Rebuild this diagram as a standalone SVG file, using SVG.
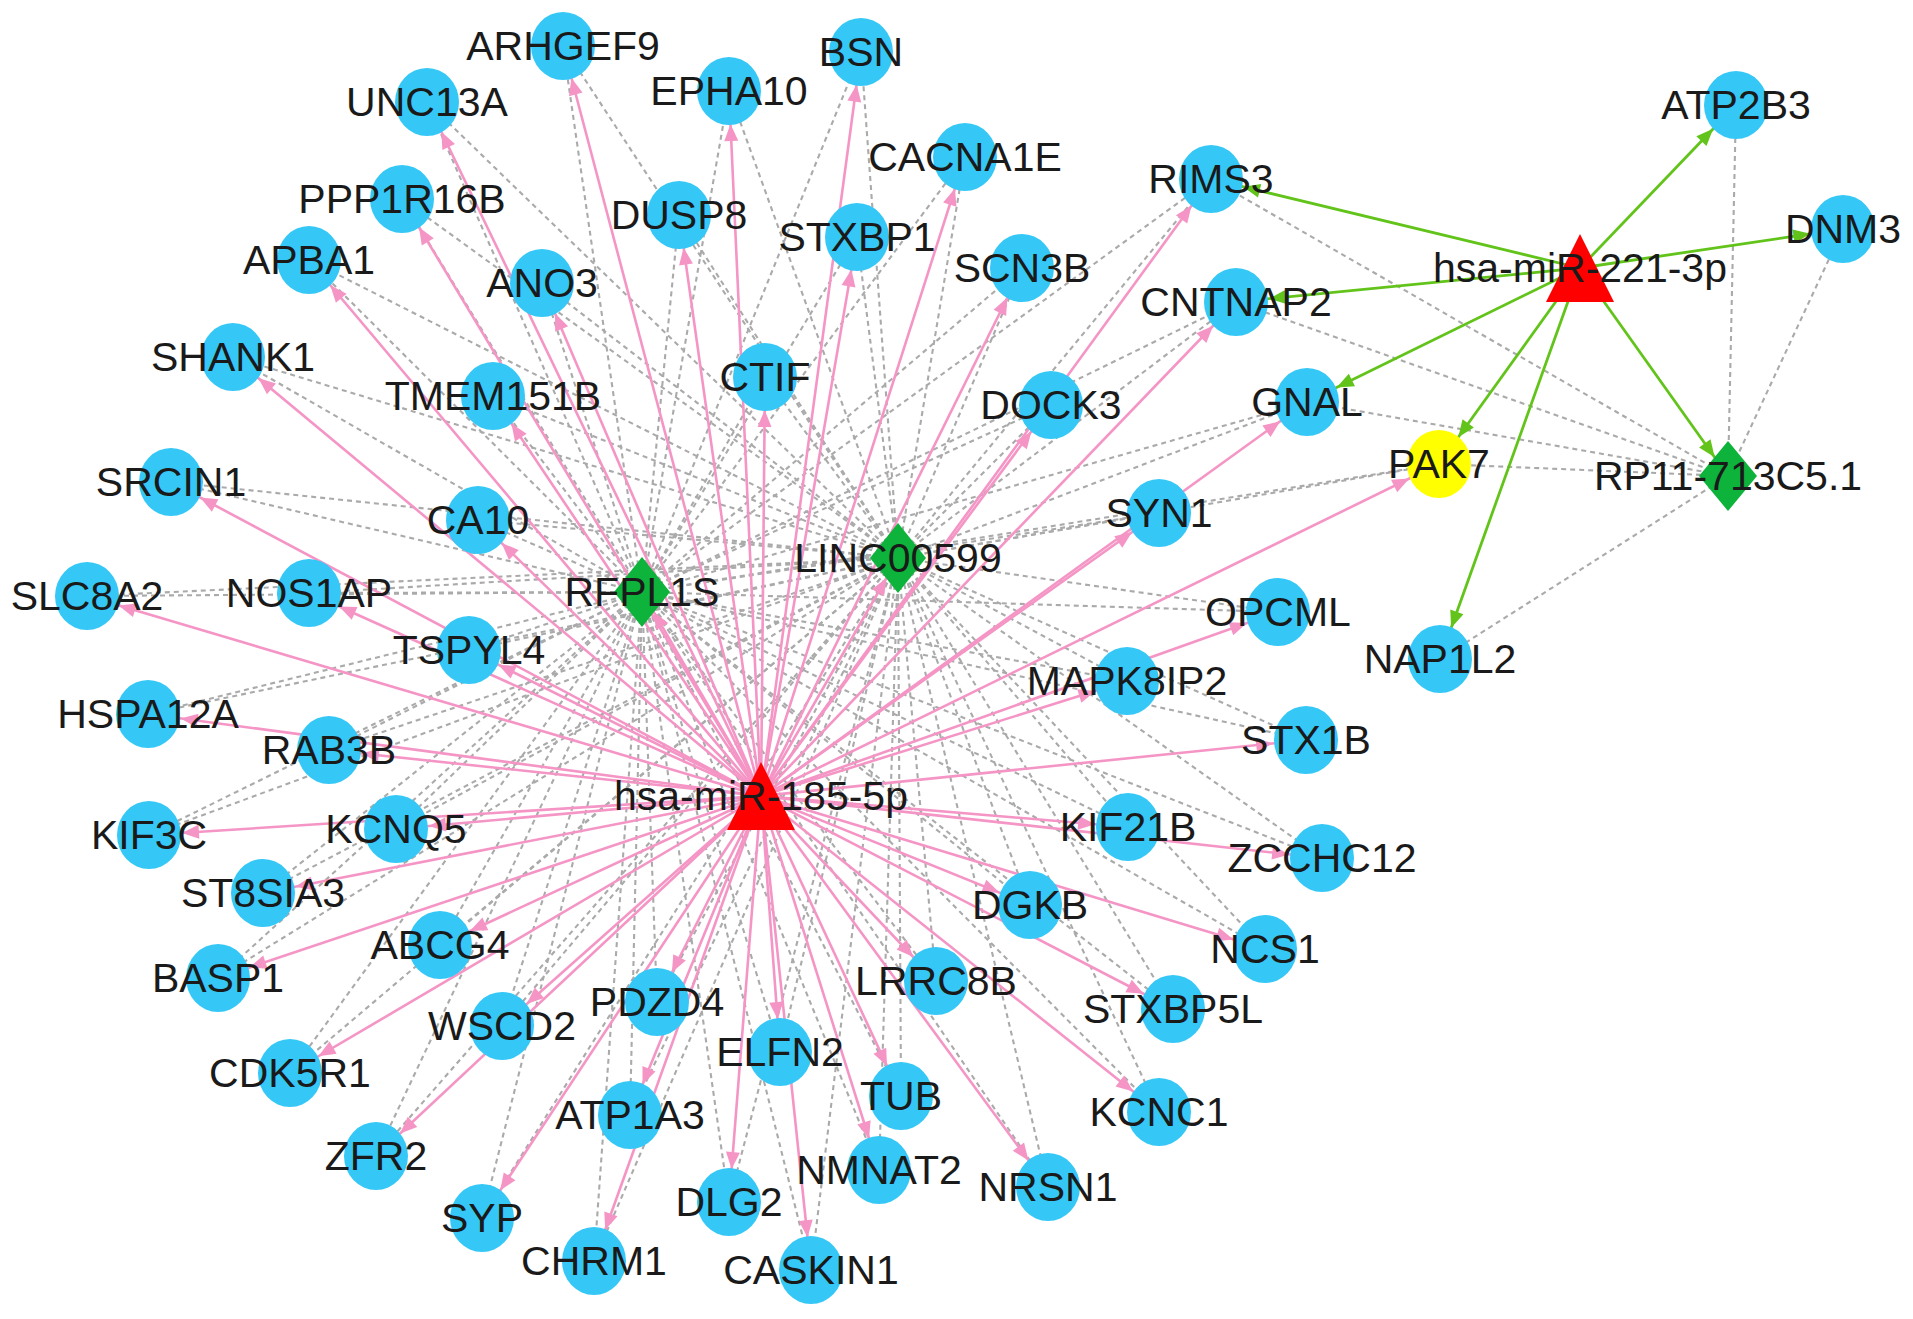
<svg xmlns="http://www.w3.org/2000/svg" width="1913" height="1319" viewBox="0 0 1913 1319">
<defs>
<style>
.d{stroke:#aaaaaa;stroke-width:2.1;stroke-dasharray:5 4;fill:none}
.p{stroke:#f595c5;stroke-width:2.6;marker-end:url(#ap)}
.pd{stroke:#f595c5;stroke-width:2.6;marker-end:url(#apd)}
.g{stroke:#62c41a;stroke-width:2.8;marker-end:url(#ag)}
.gd{stroke:#62c41a;stroke-width:2.8;marker-end:url(#agd)}
.m{fill:#35c8f7}
.l{fill:#0db33a}
.r{fill:#ff0000}
.y{fill:#ffff00}
text{font-family:"Liberation Sans",Arial,sans-serif;font-size:41px;fill:#1a1a1a;text-anchor:middle}
</style>
<marker id="ap" markerUnits="userSpaceOnUse" orient="auto" markerWidth="1" markerHeight="1" refX="0" refY="0" overflow="visible"><path d="M-33,0 L-50,-7 L-50,7 Z" fill="#f595c5"/></marker>
<marker id="apd" markerUnits="userSpaceOnUse" orient="auto" markerWidth="1" markerHeight="1" refX="0" refY="0" overflow="visible"><path d="M-23,0 L-40,-7 L-40,7 Z" fill="#f595c5"/></marker>
<marker id="ag" markerUnits="userSpaceOnUse" orient="auto" markerWidth="1" markerHeight="1" refX="0" refY="0" overflow="visible"><path d="M-33,0 L-50,-7 L-50,7 Z" fill="#62c41a"/></marker>
<marker id="agd" markerUnits="userSpaceOnUse" orient="auto" markerWidth="1" markerHeight="1" refX="0" refY="0" overflow="visible"><path d="M-23,0 L-40,-7 L-40,7 Z" fill="#62c41a"/></marker>
</defs>
<rect width="1913" height="1319" fill="#ffffff"/>
<g id="connectors">
<g id="dashed-RFPL1S">
<line class="d" x1="642" y1="592" x2="563" y2="46"/>
<line class="d" x1="642" y1="592" x2="427" y2="102"/>
<line class="d" x1="642" y1="592" x2="729" y2="91"/>
<line class="d" x1="642" y1="592" x2="861" y2="52"/>
<line class="d" x1="642" y1="592" x2="965" y2="157"/>
<line class="d" x1="642" y1="592" x2="402" y2="199"/>
<line class="d" x1="642" y1="592" x2="679" y2="215"/>
<line class="d" x1="642" y1="592" x2="857" y2="237"/>
<line class="d" x1="642" y1="592" x2="1211" y2="179"/>
<line class="d" x1="642" y1="592" x2="309" y2="260"/>
<line class="d" x1="642" y1="592" x2="542" y2="283"/>
<line class="d" x1="642" y1="592" x2="1022" y2="268"/>
<line class="d" x1="642" y1="592" x2="1236" y2="302"/>
<line class="d" x1="642" y1="592" x2="233" y2="357"/>
<line class="d" x1="642" y1="592" x2="493" y2="396"/>
<line class="d" x1="642" y1="592" x2="765" y2="377"/>
<line class="d" x1="642" y1="592" x2="1051" y2="405"/>
<line class="d" x1="642" y1="592" x2="1307" y2="402"/>
<line class="d" x1="642" y1="592" x2="171" y2="482"/>
<line class="d" x1="642" y1="592" x2="478" y2="520"/>
<line class="d" x1="642" y1="592" x2="1159" y2="513"/>
<line class="d" x1="642" y1="592" x2="87" y2="596"/>
<line class="d" x1="642" y1="592" x2="309" y2="593"/>
<line class="d" x1="642" y1="592" x2="1278" y2="612"/>
<line class="d" x1="642" y1="592" x2="469" y2="650"/>
<line class="d" x1="642" y1="592" x2="148" y2="714"/>
<line class="d" x1="642" y1="592" x2="1127" y2="681"/>
<line class="d" x1="642" y1="592" x2="329" y2="750"/>
<line class="d" x1="642" y1="592" x2="1306" y2="740"/>
<line class="d" x1="642" y1="592" x2="149" y2="835"/>
<line class="d" x1="642" y1="592" x2="396" y2="829"/>
<line class="d" x1="642" y1="592" x2="1128" y2="827"/>
<line class="d" x1="642" y1="592" x2="1322" y2="858"/>
<line class="d" x1="642" y1="592" x2="263" y2="893"/>
<line class="d" x1="642" y1="592" x2="1030" y2="905"/>
<line class="d" x1="642" y1="592" x2="440" y2="945"/>
<line class="d" x1="642" y1="592" x2="1265" y2="949"/>
<line class="d" x1="642" y1="592" x2="218" y2="978"/>
<line class="d" x1="642" y1="592" x2="936" y2="981"/>
<line class="d" x1="642" y1="592" x2="657" y2="1002"/>
<line class="d" x1="642" y1="592" x2="1173" y2="1009"/>
<line class="d" x1="642" y1="592" x2="502" y2="1026"/>
<line class="d" x1="642" y1="592" x2="780" y2="1052"/>
<line class="d" x1="642" y1="592" x2="290" y2="1073"/>
<line class="d" x1="642" y1="592" x2="901" y2="1096"/>
<line class="d" x1="642" y1="592" x2="1159" y2="1112"/>
<line class="d" x1="642" y1="592" x2="630" y2="1115"/>
<line class="d" x1="642" y1="592" x2="376" y2="1156"/>
<line class="d" x1="642" y1="592" x2="879" y2="1170"/>
<line class="d" x1="642" y1="592" x2="1048" y2="1187"/>
<line class="d" x1="642" y1="592" x2="729" y2="1202"/>
<line class="d" x1="642" y1="592" x2="482" y2="1218"/>
<line class="d" x1="642" y1="592" x2="594" y2="1261"/>
<line class="d" x1="642" y1="592" x2="811" y2="1270"/>
<line class="d" x1="642" y1="592" x2="1439" y2="464"/>
</g>
<g id="dashed-LINC00599">
<line class="d" x1="898" y1="558" x2="563" y2="46"/>
<line class="d" x1="898" y1="558" x2="427" y2="102"/>
<line class="d" x1="898" y1="558" x2="729" y2="91"/>
<line class="d" x1="898" y1="558" x2="861" y2="52"/>
<line class="d" x1="898" y1="558" x2="965" y2="157"/>
<line class="d" x1="898" y1="558" x2="402" y2="199"/>
<line class="d" x1="898" y1="558" x2="679" y2="215"/>
<line class="d" x1="898" y1="558" x2="857" y2="237"/>
<line class="d" x1="898" y1="558" x2="1211" y2="179"/>
<line class="d" x1="898" y1="558" x2="309" y2="260"/>
<line class="d" x1="898" y1="558" x2="542" y2="283"/>
<line class="d" x1="898" y1="558" x2="1022" y2="268"/>
<line class="d" x1="898" y1="558" x2="1236" y2="302"/>
<line class="d" x1="898" y1="558" x2="233" y2="357"/>
<line class="d" x1="898" y1="558" x2="493" y2="396"/>
<line class="d" x1="898" y1="558" x2="765" y2="377"/>
<line class="d" x1="898" y1="558" x2="1051" y2="405"/>
<line class="d" x1="898" y1="558" x2="1307" y2="402"/>
<line class="d" x1="898" y1="558" x2="171" y2="482"/>
<line class="d" x1="898" y1="558" x2="478" y2="520"/>
<line class="d" x1="898" y1="558" x2="1159" y2="513"/>
<line class="d" x1="898" y1="558" x2="87" y2="596"/>
<line class="d" x1="898" y1="558" x2="309" y2="593"/>
<line class="d" x1="898" y1="558" x2="1278" y2="612"/>
<line class="d" x1="898" y1="558" x2="469" y2="650"/>
<line class="d" x1="898" y1="558" x2="148" y2="714"/>
<line class="d" x1="898" y1="558" x2="1127" y2="681"/>
<line class="d" x1="898" y1="558" x2="329" y2="750"/>
<line class="d" x1="898" y1="558" x2="1306" y2="740"/>
<line class="d" x1="898" y1="558" x2="149" y2="835"/>
<line class="d" x1="898" y1="558" x2="396" y2="829"/>
<line class="d" x1="898" y1="558" x2="1128" y2="827"/>
<line class="d" x1="898" y1="558" x2="1322" y2="858"/>
<line class="d" x1="898" y1="558" x2="263" y2="893"/>
<line class="d" x1="898" y1="558" x2="1030" y2="905"/>
<line class="d" x1="898" y1="558" x2="440" y2="945"/>
<line class="d" x1="898" y1="558" x2="1265" y2="949"/>
<line class="d" x1="898" y1="558" x2="218" y2="978"/>
<line class="d" x1="898" y1="558" x2="936" y2="981"/>
<line class="d" x1="898" y1="558" x2="657" y2="1002"/>
<line class="d" x1="898" y1="558" x2="1173" y2="1009"/>
<line class="d" x1="898" y1="558" x2="502" y2="1026"/>
<line class="d" x1="898" y1="558" x2="780" y2="1052"/>
<line class="d" x1="898" y1="558" x2="290" y2="1073"/>
<line class="d" x1="898" y1="558" x2="901" y2="1096"/>
<line class="d" x1="898" y1="558" x2="1159" y2="1112"/>
<line class="d" x1="898" y1="558" x2="630" y2="1115"/>
<line class="d" x1="898" y1="558" x2="376" y2="1156"/>
<line class="d" x1="898" y1="558" x2="879" y2="1170"/>
<line class="d" x1="898" y1="558" x2="1048" y2="1187"/>
<line class="d" x1="898" y1="558" x2="729" y2="1202"/>
<line class="d" x1="898" y1="558" x2="482" y2="1218"/>
<line class="d" x1="898" y1="558" x2="594" y2="1261"/>
<line class="d" x1="898" y1="558" x2="811" y2="1270"/>
<line class="d" x1="898" y1="558" x2="1439" y2="464"/>
</g>
<g id="dashed-RP11">
<line class="d" x1="1728" y1="476" x2="1736" y2="105"/>
<line class="d" x1="1728" y1="476" x2="1843" y2="229"/>
<line class="d" x1="1728" y1="476" x2="1211" y2="179"/>
<line class="d" x1="1728" y1="476" x2="1236" y2="302"/>
<line class="d" x1="1728" y1="476" x2="1307" y2="402"/>
<line class="d" x1="1728" y1="476" x2="1439" y2="464"/>
<line class="d" x1="1728" y1="476" x2="1440" y2="659"/>
</g>
<g id="pink-185">
<line class="p" x1="761" y1="796" x2="563" y2="46"/>
<line class="p" x1="761" y1="796" x2="427" y2="102"/>
<line class="p" x1="761" y1="796" x2="729" y2="91"/>
<line class="p" x1="761" y1="796" x2="861" y2="52"/>
<line class="p" x1="761" y1="796" x2="965" y2="157"/>
<line class="p" x1="761" y1="796" x2="402" y2="199"/>
<line class="p" x1="761" y1="796" x2="679" y2="215"/>
<line class="p" x1="761" y1="796" x2="857" y2="237"/>
<line class="p" x1="761" y1="796" x2="1211" y2="179"/>
<line class="p" x1="761" y1="796" x2="309" y2="260"/>
<line class="p" x1="761" y1="796" x2="542" y2="283"/>
<line class="p" x1="761" y1="796" x2="1022" y2="268"/>
<line class="p" x1="761" y1="796" x2="1236" y2="302"/>
<line class="p" x1="761" y1="796" x2="233" y2="357"/>
<line class="p" x1="761" y1="796" x2="493" y2="396"/>
<line class="p" x1="761" y1="796" x2="765" y2="377"/>
<line class="p" x1="761" y1="796" x2="1051" y2="405"/>
<line class="p" x1="761" y1="796" x2="1307" y2="402"/>
<line class="p" x1="761" y1="796" x2="171" y2="482"/>
<line class="p" x1="761" y1="796" x2="478" y2="520"/>
<line class="p" x1="761" y1="796" x2="1159" y2="513"/>
<line class="p" x1="761" y1="796" x2="87" y2="596"/>
<line class="p" x1="761" y1="796" x2="309" y2="593"/>
<line class="p" x1="761" y1="796" x2="1278" y2="612"/>
<line class="p" x1="761" y1="796" x2="469" y2="650"/>
<line class="p" x1="761" y1="796" x2="148" y2="714"/>
<line class="p" x1="761" y1="796" x2="1127" y2="681"/>
<line class="p" x1="761" y1="796" x2="329" y2="750"/>
<line class="p" x1="761" y1="796" x2="1306" y2="740"/>
<line class="p" x1="761" y1="796" x2="149" y2="835"/>
<line class="p" x1="761" y1="796" x2="396" y2="829"/>
<line class="p" x1="761" y1="796" x2="1128" y2="827"/>
<line class="p" x1="761" y1="796" x2="1322" y2="858"/>
<line class="p" x1="761" y1="796" x2="263" y2="893"/>
<line class="p" x1="761" y1="796" x2="1030" y2="905"/>
<line class="p" x1="761" y1="796" x2="440" y2="945"/>
<line class="p" x1="761" y1="796" x2="1265" y2="949"/>
<line class="p" x1="761" y1="796" x2="218" y2="978"/>
<line class="p" x1="761" y1="796" x2="936" y2="981"/>
<line class="p" x1="761" y1="796" x2="657" y2="1002"/>
<line class="p" x1="761" y1="796" x2="1173" y2="1009"/>
<line class="p" x1="761" y1="796" x2="502" y2="1026"/>
<line class="p" x1="761" y1="796" x2="780" y2="1052"/>
<line class="p" x1="761" y1="796" x2="290" y2="1073"/>
<line class="p" x1="761" y1="796" x2="901" y2="1096"/>
<line class="p" x1="761" y1="796" x2="1159" y2="1112"/>
<line class="p" x1="761" y1="796" x2="630" y2="1115"/>
<line class="p" x1="761" y1="796" x2="376" y2="1156"/>
<line class="p" x1="761" y1="796" x2="879" y2="1170"/>
<line class="p" x1="761" y1="796" x2="1048" y2="1187"/>
<line class="p" x1="761" y1="796" x2="729" y2="1202"/>
<line class="p" x1="761" y1="796" x2="482" y2="1218"/>
<line class="p" x1="761" y1="796" x2="594" y2="1261"/>
<line class="p" x1="761" y1="796" x2="811" y2="1270"/>
<line class="p" x1="761" y1="796" x2="1439" y2="464"/>
<line class="pd" x1="761" y1="796" x2="642" y2="592"/>
<line class="pd" x1="761" y1="796" x2="898" y2="558"/>
</g>
<g id="green-221">
<line class="g" x1="1580" y1="268" x2="1211" y2="179"/>
<line class="g" x1="1580" y1="268" x2="1236" y2="302"/>
<line class="g" x1="1580" y1="268" x2="1736" y2="105"/>
<line class="g" x1="1580" y1="268" x2="1843" y2="229"/>
<line class="g" x1="1580" y1="268" x2="1307" y2="402"/>
<line class="g" x1="1580" y1="268" x2="1439" y2="464"/>
<line class="g" x1="1580" y1="268" x2="1440" y2="659"/>
<line class="gd" x1="1580" y1="268" x2="1728" y2="476"/>
</g>
</g>
<g id="nodes">
<g id="ARHGEF9"><ellipse class="m" cx="563" cy="46" rx="32" ry="34"/><text x="563" y="60">ARHGEF9</text></g>
<g id="UNC13A"><ellipse class="m" cx="427" cy="102" rx="32" ry="34"/><text x="427" y="116">UNC13A</text></g>
<g id="EPHA10"><ellipse class="m" cx="729" cy="91" rx="32" ry="34"/><text x="729" y="105">EPHA10</text></g>
<g id="BSN"><ellipse class="m" cx="861" cy="52" rx="32" ry="34"/><text x="861" y="66">BSN</text></g>
<g id="CACNA1E"><ellipse class="m" cx="965" cy="157" rx="32" ry="34"/><text x="965" y="171">CACNA1E</text></g>
<g id="PPP1R16B"><ellipse class="m" cx="402" cy="199" rx="32" ry="34"/><text x="402" y="213">PPP1R16B</text></g>
<g id="DUSP8"><ellipse class="m" cx="679" cy="215" rx="32" ry="34"/><text x="679" y="229">DUSP8</text></g>
<g id="STXBP1"><ellipse class="m" cx="857" cy="237" rx="32" ry="34"/><text x="857" y="251">STXBP1</text></g>
<g id="RIMS3"><ellipse class="m" cx="1211" cy="179" rx="32" ry="34"/><text x="1211" y="193">RIMS3</text></g>
<g id="APBA1"><ellipse class="m" cx="309" cy="260" rx="32" ry="34"/><text x="309" y="274">APBA1</text></g>
<g id="ANO3"><ellipse class="m" cx="542" cy="283" rx="32" ry="34"/><text x="542" y="297">ANO3</text></g>
<g id="SCN3B"><ellipse class="m" cx="1022" cy="268" rx="32" ry="34"/><text x="1022" y="282">SCN3B</text></g>
<g id="CNTNAP2"><ellipse class="m" cx="1236" cy="302" rx="32" ry="34"/><text x="1236" y="316">CNTNAP2</text></g>
<g id="SHANK1"><ellipse class="m" cx="233" cy="357" rx="32" ry="34"/><text x="233" y="371">SHANK1</text></g>
<g id="TMEM151B"><ellipse class="m" cx="493" cy="396" rx="32" ry="34"/><text x="493" y="410">TMEM151B</text></g>
<g id="CTIF"><ellipse class="m" cx="765" cy="377" rx="32" ry="34"/><text x="765" y="391">CTIF</text></g>
<g id="DOCK3"><ellipse class="m" cx="1051" cy="405" rx="32" ry="34"/><text x="1051" y="419">DOCK3</text></g>
<g id="GNAL"><ellipse class="m" cx="1307" cy="402" rx="32" ry="34"/><text x="1307" y="416">GNAL</text></g>
<g id="SRCIN1"><ellipse class="m" cx="171" cy="482" rx="32" ry="34"/><text x="171" y="496">SRCIN1</text></g>
<g id="CA10"><ellipse class="m" cx="478" cy="520" rx="32" ry="34"/><text x="478" y="534">CA10</text></g>
<g id="SYN1"><ellipse class="m" cx="1159" cy="513" rx="32" ry="34"/><text x="1159" y="527">SYN1</text></g>
<g id="LINC00599"><polygon class="l" points="898,523 926,558 898,593 870,558"/><text x="898" y="572">LINC00599</text></g>
<g id="RFPL1S"><polygon class="l" points="642,557 670,592 642,627 614,592"/><text x="642" y="606">RFPL1S</text></g>
<g id="SLC8A2"><ellipse class="m" cx="87" cy="596" rx="32" ry="34"/><text x="87" y="610">SLC8A2</text></g>
<g id="NOS1AP"><ellipse class="m" cx="309" cy="593" rx="32" ry="34"/><text x="309" y="607">NOS1AP</text></g>
<g id="OPCML"><ellipse class="m" cx="1278" cy="612" rx="32" ry="34"/><text x="1278" y="626">OPCML</text></g>
<g id="TSPYL4"><ellipse class="m" cx="469" cy="650" rx="32" ry="34"/><text x="469" y="664">TSPYL4</text></g>
<g id="HSPA12A"><ellipse class="m" cx="148" cy="714" rx="32" ry="34"/><text x="148" y="728">HSPA12A</text></g>
<g id="MAPK8IP2"><ellipse class="m" cx="1127" cy="681" rx="32" ry="34"/><text x="1127" y="695">MAPK8IP2</text></g>
<g id="NAP1L2"><ellipse class="m" cx="1440" cy="659" rx="32" ry="34"/><text x="1440" y="673">NAP1L2</text></g>
<g id="RAB3B"><ellipse class="m" cx="329" cy="750" rx="32" ry="34"/><text x="329" y="764">RAB3B</text></g>
<g id="STX1B"><ellipse class="m" cx="1306" cy="740" rx="32" ry="34"/><text x="1306" y="754">STX1B</text></g>
<g id="KIF3C"><ellipse class="m" cx="149" cy="835" rx="32" ry="34"/><text x="149" y="849">KIF3C</text></g>
<g id="KCNQ5"><ellipse class="m" cx="396" cy="829" rx="32" ry="34"/><text x="396" y="843">KCNQ5</text></g>
<g id="KIF21B"><ellipse class="m" cx="1128" cy="827" rx="32" ry="34"/><text x="1128" y="841">KIF21B</text></g>
<g id="ZCCHC12"><ellipse class="m" cx="1322" cy="858" rx="32" ry="34"/><text x="1322" y="872">ZCCHC12</text></g>
<g id="ST8SIA3"><ellipse class="m" cx="263" cy="893" rx="32" ry="34"/><text x="263" y="907">ST8SIA3</text></g>
<g id="DGKB"><ellipse class="m" cx="1030" cy="905" rx="32" ry="34"/><text x="1030" y="919">DGKB</text></g>
<g id="ABCG4"><ellipse class="m" cx="440" cy="945" rx="32" ry="34"/><text x="440" y="959">ABCG4</text></g>
<g id="NCS1"><ellipse class="m" cx="1265" cy="949" rx="32" ry="34"/><text x="1265" y="963">NCS1</text></g>
<g id="BASP1"><ellipse class="m" cx="218" cy="978" rx="32" ry="34"/><text x="218" y="992">BASP1</text></g>
<g id="LRRC8B"><ellipse class="m" cx="936" cy="981" rx="32" ry="34"/><text x="936" y="995">LRRC8B</text></g>
<g id="PDZD4"><ellipse class="m" cx="657" cy="1002" rx="32" ry="34"/><text x="657" y="1016">PDZD4</text></g>
<g id="STXBP5L"><ellipse class="m" cx="1173" cy="1009" rx="32" ry="34"/><text x="1173" y="1023">STXBP5L</text></g>
<g id="WSCD2"><ellipse class="m" cx="502" cy="1026" rx="32" ry="34"/><text x="502" y="1040">WSCD2</text></g>
<g id="ELFN2"><ellipse class="m" cx="780" cy="1052" rx="32" ry="34"/><text x="780" y="1066">ELFN2</text></g>
<g id="CDK5R1"><ellipse class="m" cx="290" cy="1073" rx="32" ry="34"/><text x="290" y="1087">CDK5R1</text></g>
<g id="TUB"><ellipse class="m" cx="901" cy="1096" rx="32" ry="34"/><text x="901" y="1110">TUB</text></g>
<g id="KCNC1"><ellipse class="m" cx="1159" cy="1112" rx="32" ry="34"/><text x="1159" y="1126">KCNC1</text></g>
<g id="ATP1A3"><ellipse class="m" cx="630" cy="1115" rx="32" ry="34"/><text x="630" y="1129">ATP1A3</text></g>
<g id="ZFR2"><ellipse class="m" cx="376" cy="1156" rx="32" ry="34"/><text x="376" y="1170">ZFR2</text></g>
<g id="NMNAT2"><ellipse class="m" cx="879" cy="1170" rx="32" ry="34"/><text x="879" y="1184">NMNAT2</text></g>
<g id="NRSN1"><ellipse class="m" cx="1048" cy="1187" rx="32" ry="34"/><text x="1048" y="1201">NRSN1</text></g>
<g id="DLG2"><ellipse class="m" cx="729" cy="1202" rx="32" ry="34"/><text x="729" y="1216">DLG2</text></g>
<g id="SYP"><ellipse class="m" cx="482" cy="1218" rx="32" ry="34"/><text x="482" y="1232">SYP</text></g>
<g id="CHRM1"><ellipse class="m" cx="594" cy="1261" rx="32" ry="34"/><text x="594" y="1275">CHRM1</text></g>
<g id="CASKIN1"><ellipse class="m" cx="811" cy="1270" rx="32" ry="34"/><text x="811" y="1284">CASKIN1</text></g>
<g id="ATP2B3"><ellipse class="m" cx="1736" cy="105" rx="32" ry="34"/><text x="1736" y="119">ATP2B3</text></g>
<g id="DNM3"><ellipse class="m" cx="1843" cy="229" rx="32" ry="34"/><text x="1843" y="243">DNM3</text></g>
<g id="PAK7"><ellipse class="y" cx="1439" cy="464" rx="32" ry="34"/><text x="1439" y="478">PAK7</text></g>
<g id="RP11-713C5_1"><polygon class="l" points="1728,441 1757,476 1728,511 1699,476"/><text x="1728" y="490">RP11-713C5.1</text></g>
<g id="hsa-miR-221-3p"><polygon class="r" points="1580,234 1614,302 1546,302"/><text x="1580" y="282">hsa-miR-221-3p</text></g>
<g id="hsa-miR-185-5p"><polygon class="r" points="761,762 795,830 727,830"/><text x="761" y="810">hsa-miR-185-5p</text></g>
</g>
</svg>
